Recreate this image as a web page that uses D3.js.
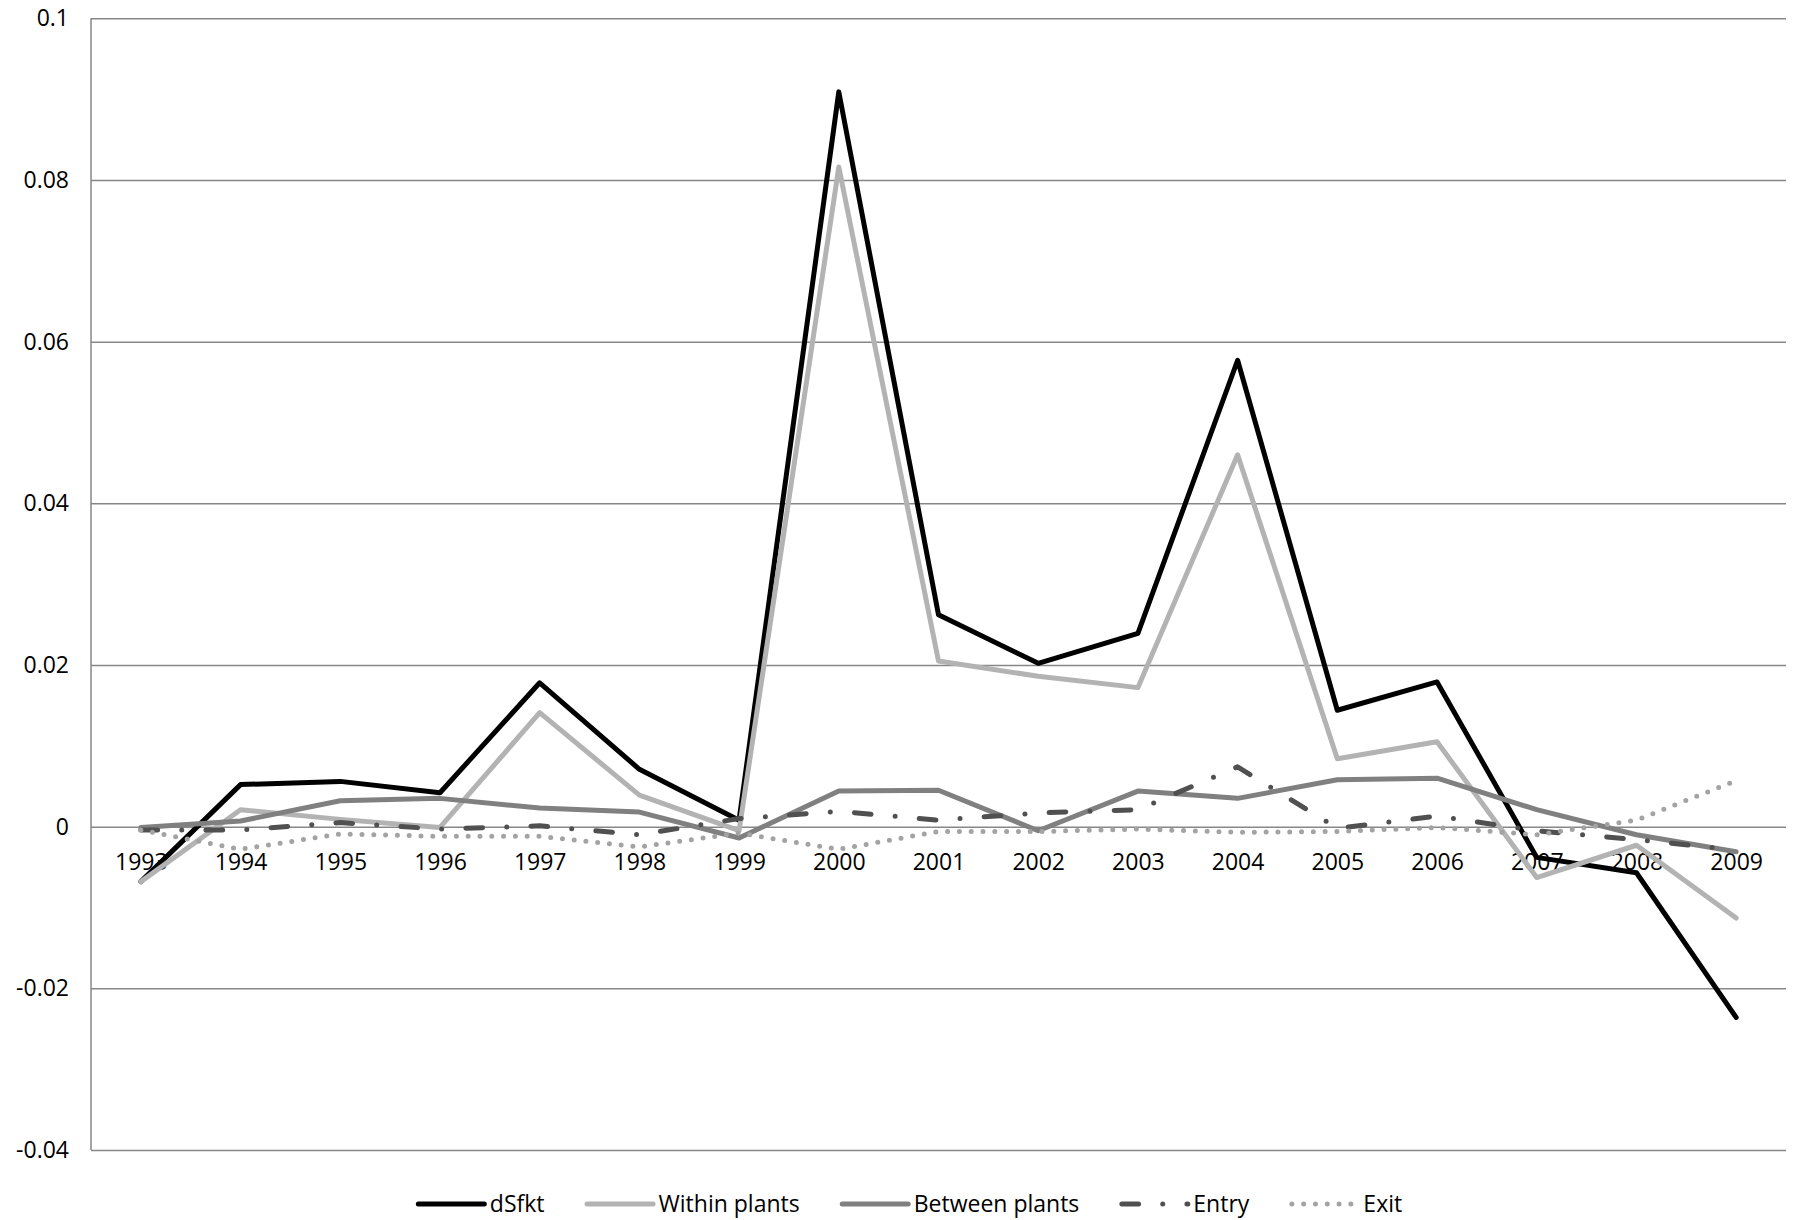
<!DOCTYPE html>
<html>
<head>
<meta charset="utf-8">
<script src="https://cdn.jsdelivr.net/npm/d3@7"></script>
<style>
  body { margin: 0; background: #fff; }
  svg { display: block; font-family: "Open Sans", "Liberation Sans", sans-serif; }
</style>
</head>
<body>
<div id="chart-area"></div>
<script>
// years on the category axis
const years = ["1993", "1994", "1995", "1996", "1997", "1998", "1999", "2000", "2001",
  "2002", "2003", "2004", "2005", "2006", "2007", "2008", "2009"];

// series values
const dSfkt = [-0.0068, 0.0052, 0.0056, 0.0042, 0.0178, 0.0071, 0.0008, 0.0909, 0.0262,
  0.0202, 0.0239, 0.0577, 0.0144, 0.0179, -0.0038, -0.0057, -0.0236];
const withinPlants = [-0.0068, 0.0021, 0.0009, -0.0001, 0.0141, 0.0039, -0.0005, 0.0816, 0.0205,
  0.0186, 0.0172, 0.0460, 0.0084, 0.0105, -0.0063, -0.0023, -0.0113];
const betweenPlants = [-0.0001, 0.0007, 0.0032, 0.0035, 0.0023, 0.0018, -0.0014, 0.0044, 0.0045,
  -0.0005, 0.0044, 0.0035, 0.0058, 0.0060, 0.0021, -0.0010, -0.0031];
const entry = [-0.0004, -0.0004, 0.0005, -0.0003, 0.0001, -0.0010, 0.0010, 0.0019, 0.0008,
  0.0017, 0.0021, 0.0074, -0.0002, 0.0013, -0.0005, -0.0016, -0.0029];
const exit = [-0.0004, -0.0028, -0.0009, -0.0012, -0.0012, -0.0025, -0.0008, -0.0028, -0.0006,
  -0.0006, -0.0003, -0.0007, -0.0006, -0.0001, -0.0010, 0.0008, 0.0057];

// y tick values
const yTicks = [-0.04, -0.02, 0, 0.02, 0.04, 0.06, 0.08, 0.1];

const seriesNames = ["dSfkt", "Within plants", "Between plants", "Entry", "Exit"];
const seriesValues = [dSfkt, withinPlants, betweenPlants, entry, exit];

// line styles per series
const styles = [
  { color: "#000000", dash: null },
  { color: "#b3b3b3", dash: null },
  { color: "#808080", dash: null },
  { color: "#505050", dash: "16.7 24.2 0 24.2" },
  { color: "#a3a3a3", dash: "0 11.8" }
];

const width = 1793, height = 1220;
const plot = { left: 91, right: 1786, top: 18.3, bottom: 1150 };

const svg = d3.select("#chart-area")
  .append("svg")
  .attr("width", width)
  .attr("height", height);

const x = d3.scalePoint()
  .domain(years)
  .range([plot.left, plot.right])
  .padding(0.5);

const y = d3.scaleLinear()
  .domain([-0.04, 0.1])
  .range([plot.bottom, plot.top]);

// horizontal gridlines
const grid = svg.append("g")
  .attr("transform", `translate(${plot.left},0)`)
  .call(d3.axisLeft(y).tickValues(yTicks).tickSize(-(plot.right - plot.left)).tickFormat(""));
grid.select(".domain").remove();
grid.selectAll("line").attr("stroke", "#878787").attr("stroke-width", 1.5);

// vertical axis line
svg.append("line")
  .attr("x1", plot.left).attr("x2", plot.left)
  .attr("y1", plot.top).attr("y2", plot.bottom)
  .attr("stroke", "#878787")
  .attr("stroke-width", 1.5);

// y labels
const yAxis = svg.append("g")
  .attr("transform", `translate(${plot.left},0)`)
  .call(d3.axisLeft(y).tickValues(yTicks).tickSize(0).tickPadding(22).tickFormat(d => String(+d.toFixed(2))));
yAxis.select(".domain").remove();
yAxis.selectAll("text").attr("font-size", 23).attr("fill", "#000").style("font-family", "'Open Sans', sans-serif");

// x labels sit just under the zero line
const xAxis = svg.append("g")
  .attr("transform", `translate(0,${y(0)})`)
  .call(d3.axisBottom(x).tickSize(0).tickPadding(27));
xAxis.select(".domain").remove();
xAxis.selectAll("text").attr("font-size", 23).attr("fill", "#000").style("font-family", "'Open Sans', sans-serif");

// series lines
const line = d3.line()
  .x((d, i) => x(years[i]))
  .y(d => y(d));

seriesValues.forEach((vals, k) => {
  const st = styles[k];
  svg.append("path")
    .datum(vals)
    .attr("fill", "none")
    .attr("stroke", st.color)
    .attr("stroke-width", 5)
    .attr("stroke-linejoin", "round")
    .attr("stroke-linecap", "round")
    .attr("stroke-dasharray", st.dash)
    .attr("d", line);
});

// legend
const legend = svg.append("g");
const symLen = 67, textGap = 7, itemGap = 40, legendY = 1204;
let cursor = 0;
seriesNames.forEach((name, k) => {
  const st = styles[k];
  const item = legend.append("g").attr("transform", `translate(${cursor},0)`);
  item.append("line")
    .attr("x1", 2.5).attr("x2", symLen + 1.5)
    .attr("y1", legendY).attr("y2", legendY)
    .attr("stroke", st.color)
    .attr("stroke-width", 5)
    .attr("stroke-linecap", "round")
    .attr("stroke-dasharray", st.dash);
  const t = item.append("text")
    .attr("x", symLen + textGap)
    .attr("y", legendY)
    .attr("dy", "0.35em")
    .attr("font-size", 23)
    .attr("fill", "#000")
    .text(name);
  cursor += symLen + textGap + t.node().getComputedTextLength() + itemGap;
});
const legendWidth = cursor - itemGap;
legend.attr("transform", `translate(${909 - legendWidth / 2},0)`);
</script>
</body>
</html>
